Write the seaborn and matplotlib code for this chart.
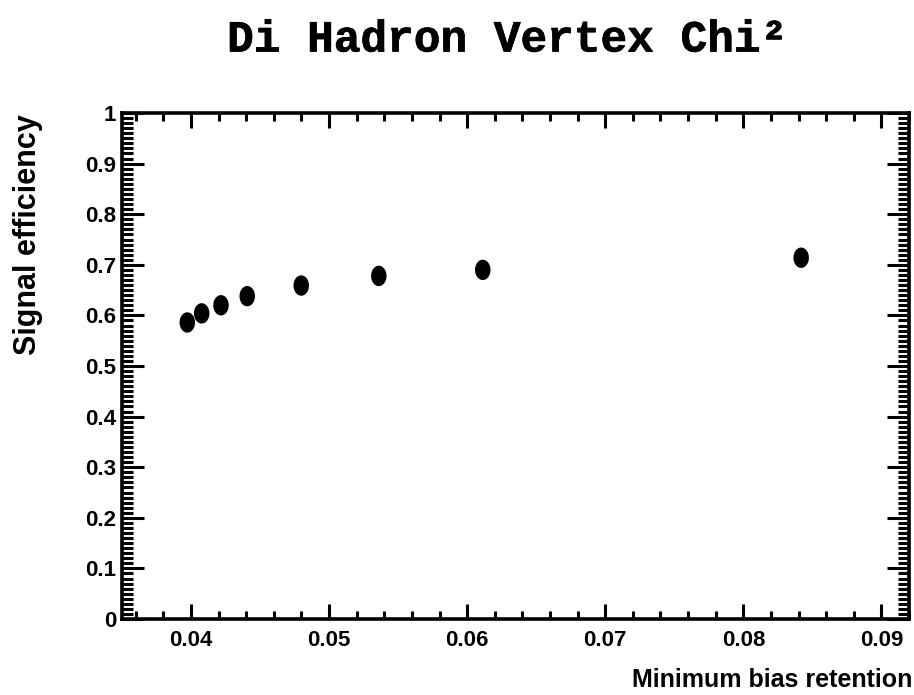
import numpy as np
import pandas as pd
import matplotlib
matplotlib.use("Agg")
import matplotlib.pyplot as plt
import matplotlib.patheffects as pe
from matplotlib.path import Path
from matplotlib.ticker import MultipleLocator, FuncFormatter
import seaborn as sns

# Data
min_bias_retention = [0.03973, 0.04077, 0.04217, 0.04407, 0.04798, 0.05360, 0.06113, 0.08419]
signal_efficiency = [0.586, 0.604, 0.620, 0.638, 0.659, 0.678, 0.690, 0.714]

title_text = "Di Hadron Vertex Chi\u00b2"
x_label = "Minimum bias retention"
y_label = "Signal efficiency"

sns.set_style("white")
plt.rcParams['font.family'] = ['Liberation Sans', 'DejaVu Sans']
plt.rcParams['text.color'] = 'black'
plt.rcParams['xtick.color'] = 'black'
plt.rcParams['ytick.color'] = 'black'

df = pd.DataFrame({"x": min_bias_retention, "y": signal_efficiency})

fig = plt.figure(figsize=(9.14, 6.95), dpi=100)
ax = fig.add_axes([122/914, 1-619/695, (909-122)/914, (619-113)/695])

# elliptical marker (slightly taller than wide, like the reference)
t = np.linspace(0, 2*np.pi, 60)
verts = np.column_stack([0.76*np.cos(t), np.sin(t)])
ell = Path(verts, closed=True)

sns.scatterplot(data=df, x="x", y="y", ax=ax, marker=ell, s=215,
                color="black", edgecolor="none", linewidth=0, zorder=3)

ax.set_xlim(0.035, 0.092)
ax.set_ylim(0, 1)
ax.set_xlabel("")
ax.set_ylabel("")

ax.xaxis.set_major_locator(MultipleLocator(0.01))
ax.xaxis.set_minor_locator(MultipleLocator(0.002))
ax.yaxis.set_major_locator(MultipleLocator(0.1))
ax.yaxis.set_minor_locator(MultipleLocator(0.01))
ax.xaxis.set_major_formatter(FuncFormatter(lambda v, p: f"{v:g}"))
ax.yaxis.set_major_formatter(FuncFormatter(lambda v, p: f"{v:g}"))

for s in ax.spines.values():
    s.set_linewidth(2.6)
    s.set_color("black")

ax.tick_params(axis="both", which="both", direction="in", top=True, right=True,
               left=True, bottom=True, width=2.2, color="black", labelcolor="black")
ax.tick_params(axis="y", which="major", length=16, pad=4)
ax.tick_params(axis="y", which="minor", length=8)
ax.tick_params(axis="x", which="major", length=11, pad=8)
ax.tick_params(axis="x", which="minor", length=5.5)
for lab in ax.get_xticklabels() + ax.get_yticklabels():
    lab.set_fontsize(16)
    lab.set_fontweight("bold")

fig.text(508/914, 1-40/695, title_text, ha="center", va="center", color="black",
         fontsize=32, fontweight="bold", family=["Liberation Mono", "DejaVu Sans Mono"],
         path_effects=[pe.withStroke(linewidth=0.5, foreground="black")])
fig.text(0.998, 1-680/695, x_label, ha="right", va="center", color="black",
         fontsize=18, fontweight="bold")
fig.text(28/914, 1-114/695, y_label, ha="center", va="top", rotation=90, color="black",
         fontsize=22, fontweight="bold")

fig.savefig("out.png", dpi=100, facecolor="white")
